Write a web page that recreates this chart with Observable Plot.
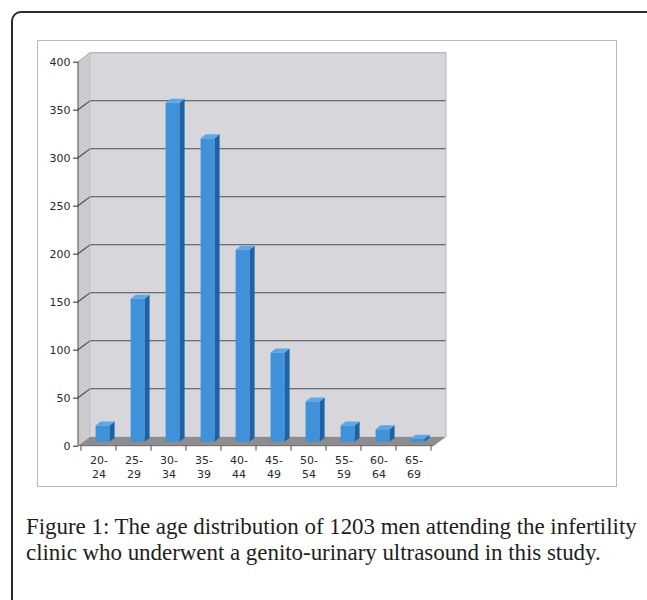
<!DOCTYPE html>
<html><head><meta charset="utf-8">
<script src="https://cdn.jsdelivr.net/npm/d3@7"></script>
<script src="https://cdn.jsdelivr.net/npm/@observablehq/plot@0.6"></script>
<style>
body{margin:0;background:#fff;width:647px;height:600px;overflow:hidden;position:relative;font-family:"DejaVu Sans",Verdana,sans-serif;}
#frame{position:absolute;left:11px;top:11px;width:720px;height:720px;border:2px solid #2b2b2b;border-radius:10px;box-sizing:border-box}
#box{position:absolute;left:37px;top:40px;width:580px;height:447px;border:1px solid #b9b9b9;box-sizing:border-box;background:#fff}
#chart{position:absolute;left:37px;top:40px}
#caption{position:absolute;left:26px;top:514px;font-family:"Liberation Serif",serif;font-size:23px;line-height:26px;letter-spacing:-0.05px;color:#1e1e1e;white-space:nowrap}
</style></head><body>
<div id="frame"></div><div id="box"></div><div id="chart"></div>
<div id="caption">Figure 1: The age distribution of 1203 men attending the infertility<br>clinic who underwent a genito-urinary ultrasound in this study.</div>
<script>
const ageGroups = ["20-24","25-29","30-34","35-39","40-44","45-49","50-54","55-59","60-64","65-69"];
const counts = [17,149,353,316,200,93,42,17,13,3];
const yTicks = [0,50,100,150,200,250,300,350,400];

const data = ageGroups.map((age, i) => ({age, count: counts[i]}));

const DX = 12, DY = -9;      // wall depth
const BX = 5, BY = -4;       // bar offset into depth / bar depth
const INSET_L = 9.6, INSET_R = 11.4;
const svgNS = "http://www.w3.org/2000/svg";

function poly(g, pts, fill) {
  const p = document.createElementNS(svgNS, "polygon");
  p.setAttribute("points", pts.map(d => d.join(",")).join(" "));
  p.setAttribute("fill", fill);
  g.appendChild(p);
}
function line(g, pts, stroke, w = 1) {
  const p = document.createElementNS(svgNS, "polyline");
  p.setAttribute("points", pts.map(d => d.join(",")).join(" "));
  p.setAttribute("fill", "none");
  p.setAttribute("stroke", stroke);
  p.setAttribute("stroke-width", w);
  g.appendChild(p);
}

// Walls, floor and gridlines drawn from the scales
function walls(index, scales, values, dim) {
  const g = document.createElementNS(svgNS, "g");
  const x0 = dim.marginLeft, x1 = dim.width - dim.marginRight;
  const yTop = scales.y(yTicks[yTicks.length - 1]), yBot = scales.y(0);
  poly(g, [[x0 + DX, yTop + DY], [x1 + DX, yTop + DY], [x1 + DX, yBot + DY], [x0 + DX, yBot + DY]], "#d7d7db");
  poly(g, [[x0, yTop], [x0 + DX, yTop + DY], [x0 + DX, yBot + DY], [x0, yBot]], "#cbcbcf");
  for (const t of yTicks.slice(1)) {
    const y = scales.y(t);
    const last = t === yTicks[yTicks.length - 1];
    line(g, [[x0, y], [x0 + DX, y + DY], [x1 + DX, y + DY]], last ? "#a9a9ad" : "#4d4d4f", last ? 1 : 1.1);
  }
  line(g, [[x1 + DX, yTop + DY], [x1 + DX, yBot + DY]], "#b4b4b8", 1);
  poly(g, [[x0, yBot], [x1, yBot], [x1 + DX, yBot + DY], [x0 + DX, yBot + DY]], "#8d8d8f");
  line(g, [[x0 + DX, yTop + DY], [x0 + DX, yBot + DY]], "#bdbdc1", 0.8);
  return g;
}

// Side and top faces of the bars
function barFaces(index, scales, values, dim) {
  const g = document.createElementNS(svgNS, "g");
  const bw = scales.x(ageGroups[1]) - scales.x(ageGroups[0]);
  for (const d of data) {
    const xl = scales.x(d.age) + INSET_L + BX;
    const xr = scales.x(d.age) + bw - INSET_R + BX;
    const yt = scales.y(d.count) + BY;
    const yb = scales.y(0) + BY;
    poly(g, [[xr, yt], [xr + BX, yt + BY], [xr + BX, yb + BY], [xr, yb]], "#1b63a6");
    poly(g, [[xl, yt], [xr, yt], [xr + BX, yt + BY], [xl + BX, yt + BY]], "#5aa7ea");
  }
  return g;
}

// Axis lines and x tick marks at category boundaries
function axes(index, scales, values, dim) {
  const g = document.createElementNS(svgNS, "g");
  const x0 = dim.marginLeft, x1 = dim.width - dim.marginRight;
  const yTop = scales.y(yTicks[yTicks.length - 1]), yBot = scales.y(0);
  line(g, [[x0, yTop], [x0, yBot]], "#4a4a4a", 1);
  line(g, [[x0, yBot], [x1, yBot]], "#6a6a6a", 1);
  const bw = scales.x(ageGroups[1]) - scales.x(ageGroups[0]);
  const bounds = ageGroups.map(a => scales.x(a)).concat([scales.x(ageGroups[ageGroups.length - 1]) + bw]);
  for (const bx of bounds) line(g, [[bx, yBot], [bx, yBot + 5]], "#4a4a4a", 1);
  return g;
}

const chart = Plot.plot({
  width: 580,
  height: 447,
  marginLeft: 41,
  marginRight: 183,
  marginTop: 21.7,
  marginBottom: 41.3,
  style: "background:transparent;overflow:visible;font-family:'DejaVu Sans',Verdana,sans-serif;",
  x: {type: "band", domain: ageGroups, padding: 0, label: null},
  y: {domain: [0, 400], label: null},
  marks: [
    walls,
    Plot.barY(data, {x: "age", y: "count", fill: "#3f91da", insetLeft: INSET_L, insetRight: INSET_R, dx: BX, dy: BY}),
    barFaces,
    axes,
    Plot.axisY({ticks: yTicks, tickSize: 5, tickPadding: 3, fontSize: 11, color: "#2a2a2a", label: null}),
    Plot.axisX({tickSize: 0, tickPadding: 8, fontSize: 11, color: "#2a2a2a", lineHeight: 1.25, label: null,
      tickFormat: d => d.replace("-", "-\n")})
  ]
});
document.getElementById("chart").appendChild(chart);
</script>
</body></html>
